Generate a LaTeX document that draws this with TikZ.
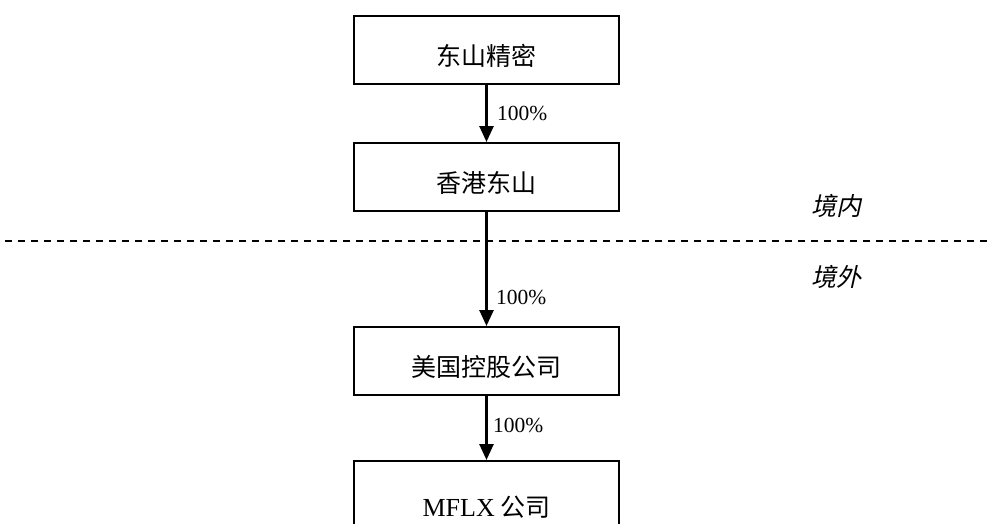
\documentclass[tikz,border=0pt]{standalone}
\usepackage{fontspec}
\setmainfont{Liberation Serif}
\newfontfamily\cjk{Noto Sans CJK SC}
\newfontfamily\cjkit[FakeSlant=0.22]{Noto Sans CJK SC}
\usetikzlibrary{arrows.meta}
\begin{document}
\begin{tikzpicture}[x=1pt,y=-1pt,
  entity/.style={draw=black, line width=2pt, minimum width=265pt, minimum height=68pt, inner sep=0pt, text height=33pt, text depth=2pt, font=\fontsize{25}{28}\selectfont\cjk},
  link/.style={line width=2.6pt, -{Triangle[width=14pt,length=16pt]}},
  pct/.style={anchor=west, inner sep=0pt, font=\fontsize{21.5}{24}\selectfont},
  zone/.style={anchor=center, inner sep=0pt, font=\fontsize{25}{28}\selectfont\cjkit}]
\useasboundingbox (0,0) rectangle (989,523);
\clip (0,0) rectangle (989,523);
\node[entity] (a) at (486.5,50) {东山精密};
\node[entity] (b) at (486.5,177) {香港东山};
\node[entity] (c) at (486.5,361) {美国控股公司};
\node[entity, minimum height=80pt] (d) at (486.5,501) {{\fontsize{26}{28}\selectfont\rmfamily MFLX} 公司};
\draw[link] (a.south) -- (b.north);
\draw[link] (b.south) -- (c.north);
\draw[link] (c.south) -- (d.north);
\node[pct] (p1) at (497,113) {100\%};
\node[pct] (p2) at (496,297) {100\%};
\node[pct] (p3) at (493,425) {100\%};
\coordinate (l0) at (5,241);
\coordinate (l1) at (989,241);
\draw[line width=1.8pt, dash pattern=on 7pt off 6pt] (l0) -- (l1);
\node[zone] (in) at (836,206) {境内};
\node[zone] (out) at (836,277) {境外};
\end{tikzpicture}
\end{document}
